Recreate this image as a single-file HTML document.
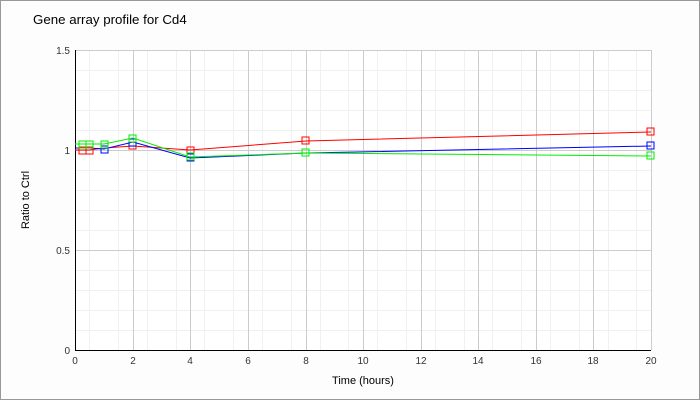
<!DOCTYPE html><html><head><style>body{margin:0;background:#fff}svg{display:block;font-family:"Liberation Sans",sans-serif}</style></head><body>
<svg width="700" height="400" viewBox="0 0 700 400">
<rect x="0.5" y="0.5" width="699" height="399" fill="#fdfdfd" stroke="#999"/>
<rect x="75" y="50" width="576" height="300" fill="#fff"/>
<text x="33" y="24" font-size="13.3" fill="#000">Gene array profile for Cd4</text>
<g stroke="#f0f0f0" stroke-width="1">
<path d="M89.5 50V350M118.5 50V350M147.5 50V350M176.5 50V350M204.5 50V350M233.5 50V350M262.5 50V350M291.5 50V350M320.5 50V350M348.5 50V350M377.5 50V350M406.5 50V350M435.5 50V350M464.5 50V350M492.5 50V350M521.5 50V350M550.5 50V350M579.5 50V350M608.5 50V350M636.5 50V350"/>
<path d="M75 70.5H651M75 90.5H651M75 110.5H651M75 130.5H651M75 170.5H651M75 190.5H651M75 210.5H651M75 230.5H651M75 270.5H651M75 290.5H651M75 310.5H651M75 330.5H651"/>
</g>
<g stroke="#ccc" stroke-width="1">
<path d="M133.5 50V350M190.5 50V350M248.5 50V350M306.5 50V350M363.5 50V350M421.5 50V350M478.5 50V350M536.5 50V350M593.5 50V350M651.5 50V350"/>
<path d="M75 50.5H651M75 150.5H651M75 250.5H651"/>
</g>
<path d="M75.5 50V350.5H651" stroke="#000" fill="none"/>
<g font-size="10" fill="#333" text-anchor="end">
<text x="70" y="54">1.5</text><text x="70" y="154">1</text><text x="70" y="254">0.5</text><text x="70" y="354">0</text>
</g>
<g font-size="10" fill="#333" text-anchor="middle">
<text x="75" y="364">0</text><text x="133" y="364">2</text><text x="190" y="364">4</text><text x="248" y="364">6</text><text x="306" y="364">8</text><text x="363" y="364">10</text><text x="421" y="364">12</text><text x="478" y="364">14</text><text x="536" y="364">16</text><text x="593" y="364">18</text><text x="651" y="364">20</text>
</g>
<text x="363" y="384" font-size="11" text-anchor="middle">Time (hours)</text>
<text transform="translate(29,200) rotate(-90)" font-size="11" text-anchor="middle">Ratio to Ctrl</text>
<g fill="none" stroke-width="1">
<g stroke="#f00"><polyline points="75,150 89,150 104,148 133,146 190,150 306,141 651,132"/>
<g><rect x="79" y="147" width="7" height="7"/><rect x="86" y="147" width="7" height="7"/><rect x="129" y="142" width="7" height="7"/><rect x="187" y="147" width="7" height="7"/><rect x="302" y="137" width="7" height="7"/><rect x="647" y="128" width="7" height="7"/></g></g>
<g stroke="#00f"><polyline points="75,148 89,148 104,149 133,142 190,158 306,153 651,146"/>
<g><rect x="101" y="146" width="7" height="7"/><rect x="129" y="139" width="7" height="7"/><rect x="187" y="154" width="7" height="7"/><rect x="647" y="142" width="7" height="7"/></g></g>
<g stroke="#0e0"><polyline points="75,144 89,144 104,144 133,138 190,157 306,153 651,156"/>
<g><rect x="79" y="141" width="7" height="7"/><rect x="86" y="141" width="7" height="7"/><rect x="101" y="141" width="7" height="7"/><rect x="129" y="135" width="7" height="7"/><rect x="187" y="153" width="7" height="7"/><rect x="302" y="149" width="7" height="7"/><rect x="647" y="152" width="7" height="7"/></g></g>
</g>
</svg></body></html>
